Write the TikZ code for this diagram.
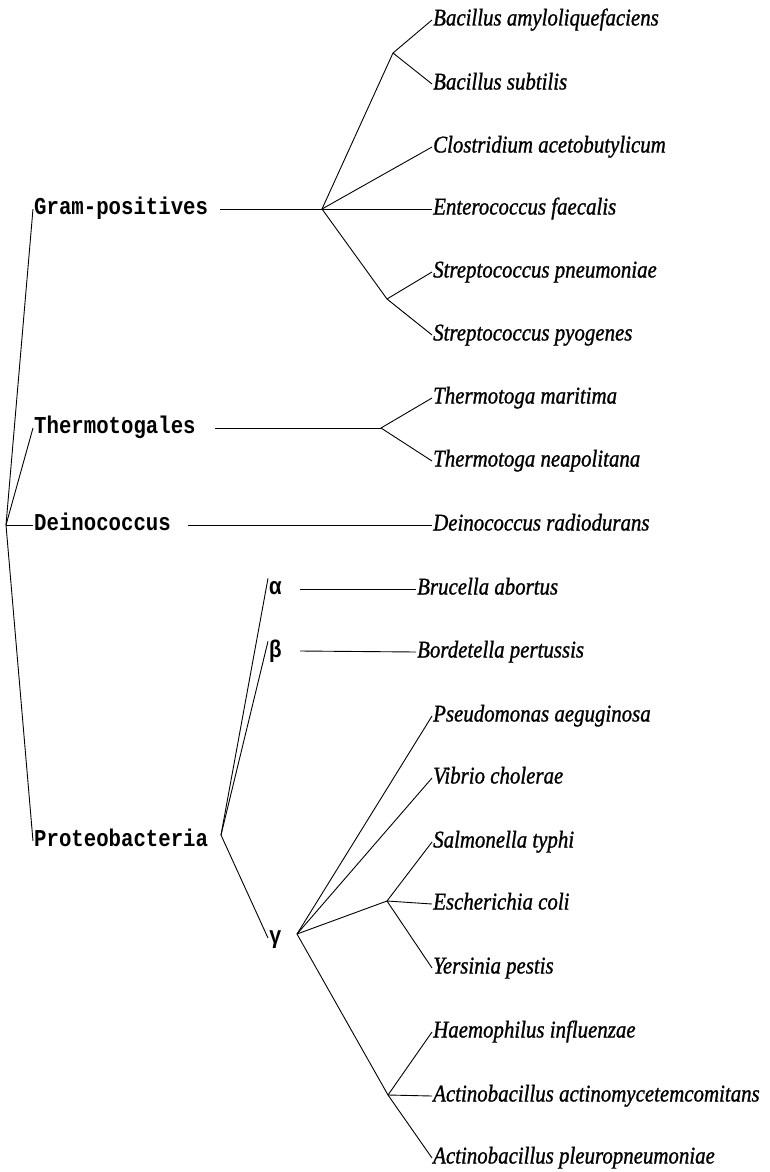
\documentclass[tikz,border=0pt]{standalone}
\usepackage{fontspec}
\newfontfamily\leaffont[FakeStretch=0.87,FakeBold=1]{Liberation Serif}
\newfontfamily\cladefont[FakeStretch=0.855]{Liberation Mono}
\begin{document}
\begin{tikzpicture}[x=1pt,y=-1pt,
  leaf/.style={anchor=west, inner sep=1pt, text height=16pt, text depth=5pt,
    font=\leaffont\itshape\fontsize{24}{24}\selectfont},
  clade/.style={anchor=west, inner sep=1pt, text height=15pt, text depth=4pt,
    font=\cladefont\bfseries\fontsize{24.2}{24}\selectfont},
  br/.style={line width=0.9pt, black}]
\useasboundingbox (0,0) rectangle (770,1172);

% clade labels
\node[clade] (gp) at (33,209) {Gram-positives};
\node[clade] (tg) at (33,428) {Thermotogales};
\node[clade] (dc) at (33,525) {Deinococcus};
\node[clade] (pb) at (33,841) {Proteobacteria};
\node[clade] (al) at (268,589) {α};
\node[clade] (be) at (268,652) {β};
\node[clade] (ga) at (268,938) {γ};

% leaves
\node[leaf] (ba) at (432,20) {Bacillus amyloliquefaciens};
\node[leaf] (bs) at (432,84) {Bacillus subtilis};
\node[leaf] (ca) at (432,147) {Clostridium acetobutylicum};
\node[leaf] (ef) at (432,209) {Enterococcus faecalis};
\node[leaf] (sn) at (432,272) {Streptococcus pneumoniae};
\node[leaf] (sy) at (432,335) {Streptococcus pyogenes};
\node[leaf] (tm) at (432,398) {Thermotoga maritima};
\node[leaf] (tn) at (432,461) {Thermotoga neapolitana};
\node[leaf] (dr) at (432,525) {Deinococcus radiodurans};
\node[leaf] (bra) at (416,589) {Brucella abortus};
\node[leaf] (bop) at (416,652) {Bordetella pertussis};
\node[leaf] (pa) at (432,716) {Pseudomonas aeguginosa};
\node[leaf] (vc) at (432,778) {Vibrio cholerae};
\node[leaf] (st) at (432,842) {Salmonella typhi};
\node[leaf] (ec) at (432,904) {Escherichia coli};
\node[leaf] (yp) at (432,968) {Yersinia pestis};
\node[leaf] (hi) at (432,1032) {Haemophilus influenzae};
\node[leaf] (aa) at (432,1096) {Actinobacillus actinomycetemcomitans};
\node[leaf] (ap) at (432,1158) {Actinobacillus pleuropneumoniae};

% internal points
\coordinate (root) at (6,525);
\coordinate (gps) at (220,209);
\coordinate (gpj) at (322,209);
\coordinate (bacj) at (393,53);
\coordinate (strj) at (387,299);
\coordinate (tgs) at (215,428);
\coordinate (tgj) at (381,428);
\coordinate (dcs) at (188,525);
\coordinate (pbj) at (221,835);
\coordinate (als) at (300,589);
\coordinate (bes) at (300,651);
\coordinate (gaj) at (297,934);
\coordinate (ecj) at (387,901);
\coordinate (hij) at (388,1095);

% root
\draw[br] (root) -- (gp.west);
\draw[br] (root) -- (tg.west);
\draw[br] (root) -- (dc.west);
\draw[br] (root) -- (pb.west);

% gram positives
\draw[br] (gps) -- (gpj);
\draw[br] (gpj) -- (bacj);
\draw[br] (bacj) -- (ba.west);
\draw[br] (bacj) -- (bs.west);
\draw[br] (gpj) -- (ca.west);
\draw[br] (gpj) -- (ef.west);
\draw[br] (gpj) -- (strj);
\draw[br] (strj) -- (sn.west);
\draw[br] (strj) -- (sy.west);

% thermotogales
\draw[br] (tgs) -- (tgj);
\draw[br] (tgj) -- (tm.west);
\draw[br] (tgj) -- (tn.west);

% deinococcus
\draw[br] (dcs) -- (dr.west);

% proteobacteria
\draw[br] (pbj) -- (al.north west);
\draw[br] (pbj) -- (be.north west);
\draw[br] (pbj) -- (ga.west);
\draw[br] (als) -- (bra.west);
\draw[br] (bes) -- (bop.west);
\draw[br] (gaj) -- (pa.west);
\draw[br] (gaj) -- (vc.west);
\draw[br] (gaj) -- (ecj);
\draw[br] (ecj) -- (st.west);
\draw[br] (ecj) -- (ec.west);
\draw[br] (ecj) -- (yp.west);
\draw[br] (gaj) -- (hij);
\draw[br] (hij) -- (hi.west);
\draw[br] (hij) -- (aa.west);
\draw[br] (hij) -- (ap.west);
\end{tikzpicture}
\end{document}
